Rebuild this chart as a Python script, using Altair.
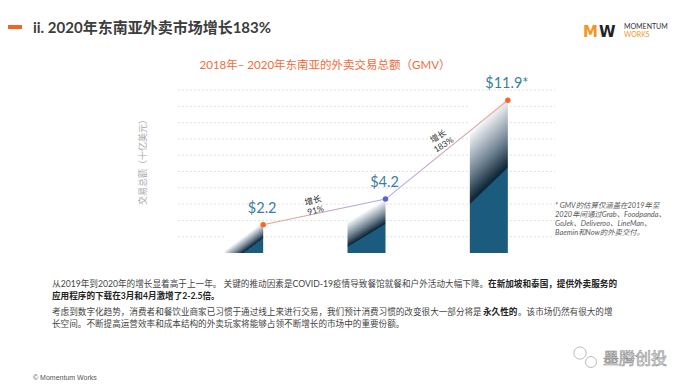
import altair as alt
import pandas as pd

# ---------------- data ----------------
years = [2018, 2019, 2020]
gmv = [2.2, 4.2, 11.9]
value_labels = ["$2.2", "$4.2", "$11.9*"]
growth_labels = ["增长\n91%", "增长\n183%"]
grid_values = [1.27, 2.54, 3.81, 5.08, 6.35, 7.62, 8.89, 10.16, 11.43, 12.7]

slide_title = "ii. 2020年东南亚外卖市场增长183%"
chart_title = "2018年– 2020年东南亚的外卖交易总额（GMV）"
y_title = "交易总额（十亿美元）"
footnote = "* GMV的估算仅涵盖在2019年至\n2020年间通过Grab、Foodpanda、\nGoJek、Deliveroo、LineMan、\nBaemin和Now的外卖交付。"
p1a = "从2019年到2020年的增长显着高于上一年。 关键的推动因素是COVID-19疫情导致餐馆就餐和户外活动大幅下降。"
p1b = "在新加坡和泰国，提供外卖服务的"
p2 = "应用程序的下载在3月和4月激增了2-2.5倍。"
p3a = "考虑到数字化趋势，消费者和餐饮业商家已习惯于通过线上来进行交易，我们预计消费习惯的改变很大一部分将是"
p3b = "永久性的"
p3c = "。该市场仍然有很大的增"
p4 = "长空间。不断提高运营效率和成本结构的外卖玩家将能够占领不断增长的市场中的重要份额。"
footer = "© Momentum Works"
watermark = "墨腾创投"

# ---------------- layout ----------------
W, H = 377, 163
OX, OY = 178, 90  # page position of plot origin
CJK = "Noto Sans CJK SC"
LAT = "Lato, Noto Sans CJK SC"

df = pd.DataFrame({"year": years, "gmv": gmv, "label": value_labels})
seg = pd.DataFrame({
    "year": [(years[i] + years[i + 1]) / 2 for i in range(2)],
    "gmv": [(gmv[i] + gmv[i + 1]) / 2 for i in range(2)],
    "label": growth_labels,
})
grid_df = pd.DataFrame({"g": grid_values})

xs = alt.Scale(domain=[2017.5, 2020.5])
ys = alt.Scale(domain=[0, 12.7])
X_axis = alt.X("year:Q", scale=xs, axis=alt.Axis(
    values=years, format="d", labelColor="#666", labelFontSize=11.5, labelFont=LAT,
    labelPadding=9, ticks=False, domainColor="#d4d4d4", domainWidth=1.5, grid=False, title=None))
Xn = alt.X("year:Q", scale=xs, axis=None)
Yn = alt.Y("gmv:Q", scale=ys, axis=None)


def grad(x1, y1, x2, y2):
    return alt.LinearGradient(
        gradient="linear",
        stops=[alt.GradientStop(color="#ffffff", offset=0),
               alt.GradientStop(color="#6d8090", offset=0.6),
               alt.GradientStop(color="#0c2435", offset=0.97),
               alt.GradientStop(color="#1b5b7e", offset=1)],
        x1=x1, y1=y1, x2=x2, y2=y2)


bar_grads = {
    2018: (0.45, 0.45, 0.74, 0.74),
    2019: (0.0, 0.42, 0.17, 0.82),
    2020: (0.0, 0.2, 0.11, 0.66),
}

grid = alt.Chart(grid_df).mark_rule(color="#e0e0e0", strokeWidth=1, strokeDash=[2, 2]).encode(
    y=alt.Y("g:Q", scale=ys, axis=None), x=alt.value(0), x2=alt.value(W))

base = alt.Chart(df).mark_bar(opacity=0).encode(x=X_axis, y=Yn)
bars = [
    alt.Chart(df).transform_filter(alt.datum.year == yr)
    .mark_bar(width=38, color=grad(*g)).encode(x=Xn, y=Yn)
    for yr, g in bar_grads.items()
]

line = alt.Chart(df).mark_line(
    xOffset=19, strokeWidth=1.1,
    stroke=alt.LinearGradient(
        gradient="linear",
        stops=[alt.GradientStop(color="#f4a07c", offset=0),
               alt.GradientStop(color="#a9a8ee", offset=0.5),
               alt.GradientStop(color="#f6a889", offset=1)],
        x1=0, y1=0, x2=1, y2=0),
).encode(x=Xn, y=Yn)

points = alt.Chart(df).mark_point(filled=True, size=30, xOffset=19, opacity=1).encode(
    x=Xn, y=Yn,
    color=alt.condition(alt.datum.year == 2019, alt.value("#5961cf"), alt.value("#f2692e")))

vlabels = alt.Chart(df).mark_text(
    xOffset=18, dy=-16, fontSize=14.5, font=LAT, color="#3d7da2").encode(x=Xn, y=Yn, text="label:N")

g1 = alt.Chart(seg).transform_filter(alt.datum.year < 2019).mark_text(
    xOffset=19, angle=345, dx=-8, dy=-14, lineBreak="\n", fontSize=8.5, font=LAT,
    color="#333", lineHeight=10).encode(x=Xn, y=Yn, text="label:N")
g2 = alt.Chart(seg).transform_filter(alt.datum.year > 2019).mark_text(
    xOffset=19, angle=328, dx=0, dy=-16, lineBreak="\n", fontSize=8.5, font=LAT,
    color="#333", lineHeight=10).encode(x=Xn, y=Yn, text="label:N")


def note(text, px, py, **kw):
    return alt.Chart(pd.DataFrame({"t": [text]})).mark_text(**kw).encode(
        x=alt.value(px - OX), y=alt.value(py - OY), text="t:N")


notes = [
    # slide header
    alt.Chart(pd.DataFrame({"a": [0]})).mark_rule(color="#f26522", strokeWidth=4).encode(
        x=alt.value(8 - OX), x2=alt.value(22 - OX), y=alt.value(27 - OY)),
    note(slide_title, 33, 28, align="left", baseline="middle", font=LAT, fontWeight="bold",
         fontSize=15, color="#3d3d3d"),
    # logo
    note("M", 583, 32, align="left", baseline="middle", font="DejaVu Sans", fontWeight="bold",
         fontSize=15, color="#f7941d"),
    note("W", 599, 32, align="left", baseline="middle", font="DejaVu Sans", fontWeight="bold",
         fontSize=15, color="#222"),
    note("MOMENTUM", 624, 27, align="left", baseline="middle", font=LAT, fontSize=7, color="#333"),
    note("WORKS", 624, 35, align="left", baseline="middle", font=LAT, fontSize=7, color="#f7941d"),
    # chart title
    note(chart_title, 325, 66, align="center", baseline="middle", font=LAT, fontSize=11.5,
         color="#f26b38"),
    # y title
    note(y_title, 143, 160, align="center", baseline="middle", font=CJK, fontSize=9,
         color="#a8a8a8", angle=270),
    # footnote
    note(footnote, 555, 206, align="left", baseline="middle", font=LAT, fontSize=7.4,
         fontStyle="italic", color="#5a5a5a", lineBreak="\n", lineHeight=9),
    # paragraph
    note(p1a, 52, 284, align="left", baseline="middle", font=LAT, fontSize=8.65, color="#444"),
    note(p1b, 617, 284, align="right", baseline="middle", font=LAT, fontSize=8.6,
         fontWeight="bold", color="#222"),
    note(p2, 52, 296, align="left", baseline="middle", font=LAT, fontSize=8.6,
         fontWeight="bold", color="#222"),
    note(p3a, 52, 312, align="left", baseline="middle", font=CJK, fontSize=8.6, color="#444"),
    note(p3b, 483, 312, align="left", baseline="middle", font=CJK, fontSize=8.6,
         fontWeight="bold", color="#222"),
    note(p3c, 518, 312, align="left", baseline="middle", font=CJK, fontSize=8.6, color="#444"),
    note(p4, 52, 324, align="left", baseline="middle", font=CJK, fontSize=8.6, color="#444"),
    # footer
    note(footer, 33, 378, align="left", baseline="middle", font="Liberation Sans", fontSize=7,
         color="#555"),
    # watermark
    note(watermark, 603, 359, align="left", baseline="middle", font=CJK, fontSize=16,
         color="#ffffff", stroke="#8a8a8a", strokeWidth=0.6),
    alt.Chart(pd.DataFrame({"a": [0]})).mark_point(
        shape="circle", size=150, filled=True, fill="#ffffff", stroke="#aaa", strokeWidth=0.8,
        opacity=1).encode(x=alt.value(580 - OX), y=alt.value(353 - OY)),
    alt.Chart(pd.DataFrame({"a": [0]})).mark_point(
        shape="circle", size=120, filled=True, fill="#ffffff", stroke="#aaa", strokeWidth=0.8,
        opacity=1).encode(x=alt.value(591 - OX), y=alt.value(362 - OY)),
]

chart = alt.layer(grid, base, *bars, line, points, vlabels, g1, g2, *notes).properties(
    width=W, height=H,
    autosize=alt.AutoSizeParams(type="none"),
    padding={"left": 170, "top": 82, "right": 130, "bottom": 129},
    background="#ffffff",
).configure_view(stroke=None)

chart.save("out.html", embed_options={"renderer": "svg", "actions": False})
